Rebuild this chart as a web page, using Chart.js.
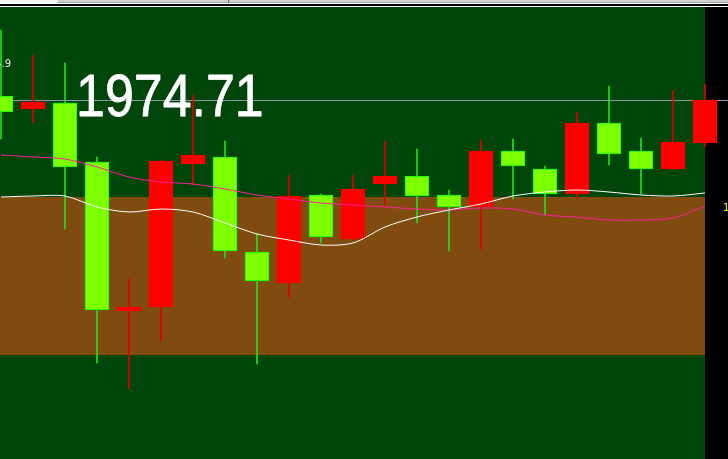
<!DOCTYPE html>
<html>
<head>
<meta charset="utf-8">
<script src="https://cdn.jsdelivr.net/npm/chart.js@4.4.0/dist/chart.umd.min.js"></script>
<style>
  html, body { margin: 0; padding: 0; background: #000; }
  canvas { display: block; }
</style>
</head>
<body>
<canvas id="myChart" width="728" height="459"></canvas>
<script>
// bougies (prix)
const opens  = [1974.75, 1974.62, 1974.68, 1974.09, 1972.60, 1972.64, 1974.07, 1974.14, 1973.19, 1972.88, 1973.76, 1973.32,
                1973.87, 1973.95, 1973.76, 1973.64, 1974.20, 1974.02, 1973.77, 1974.48, 1974.20, 1974.02, 1974.28];
const highs  = [1975.41, 1975.16, 1975.08, 1974.14, 1972.92, 1974.11, 1974.76, 1974.30, 1973.37, 1973.96, 1973.77, 1973.96,
                1974.30, 1974.22, 1973.81, 1974.31, 1974.32, 1974.05, 1974.59, 1974.85, 1974.33, 1974.81, 1974.87];
const lows   = [1974.32, 1974.48, 1973.42, 1972.08, 1971.82, 1972.30, 1973.86, 1973.13, 1972.07, 1972.74, 1973.28, 1973.31,
                1973.66, 1973.48, 1973.20, 1973.22, 1973.72, 1973.56, 1973.72, 1974.06, 1973.77, 1974.02, 1974.24];
const closes = [1974.59, 1974.69, 1974.04, 1972.61, 1972.64, 1974.10, 1974.16, 1973.20, 1972.90, 1973.75, 1973.34, 1973.82,
                1973.95, 1973.75, 1973.64, 1974.20, 1974.05, 1973.77, 1974.48, 1974.17, 1974.02, 1974.29, 1974.71];

// moyennes mobiles
const maWhite   = [1973.74, 1973.75, 1973.75, 1973.64, 1973.59, 1973.62, 1973.59, 1973.48, 1973.37, 1973.31, 1973.26, 1973.28,
                   1973.44, 1973.54, 1973.61, 1973.67, 1973.75, 1973.79, 1973.81, 1973.79, 1973.76, 1973.75, 1973.78];
const maMagenta = [1974.16, 1974.14, 1974.12, 1974.04, 1973.94, 1973.89, 1973.87, 1973.82, 1973.76, 1973.72, 1973.68, 1973.66,
                   1973.64, 1973.62, 1973.61, 1973.63, 1973.62, 1973.56, 1973.54, 1973.51, 1973.51, 1973.53, 1973.65];

// zone (rectangle marron)
const zoneHigh = 1973.74;
const zoneLow = 1972.16;

// echelle de prix visible
const priceMax = 1975.71;
const priceMin = 1971.12;

const upColor = "#ff0000";
const downColor = "#7cff00";

const bodies = opens.map((o, i) => ({ x: i, y: [o, closes[i]] }));
const wicks = lows.map((l, i) => ({ x: i, y: [l, highs[i]] }));
const isUp = closes.map((c, i) => c >= opens[i]);

const chartPlugin = {
  id: "mt4",
  beforeDatasetsDraw(chart) {
    const ctx = chart.ctx;
    const y = chart.scales.y;
    const x = chart.scales.x;
    const rightEdge = x.getPixelForValue(closes.length - 1);
    ctx.save();
    ctx.fillStyle = "#00450a";
    ctx.fillRect(0, 0, rightEdge, chart.height);
    ctx.fillStyle = "#000000";
    ctx.fillRect(rightEdge, 0, chart.width - rightEdge, chart.height);
    // zone
    const zt = y.getPixelForValue(zoneHigh);
    const zb = y.getPixelForValue(zoneLow);
    ctx.fillStyle = "#804b0e";
    ctx.fillRect(0, zt, rightEdge, zb - zt);
    // ligne bid
    const by = Math.round(y.getPixelForValue(closes[closes.length - 1])) + 0.5;
    ctx.strokeStyle = "#8a96a8";
    ctx.lineWidth = 1;
    ctx.beginPath();
    ctx.moveTo(0, by);
    ctx.lineTo(chart.width, by);
    ctx.stroke();
    ctx.restore();
  },
  afterDraw(chart) {
    const ctx = chart.ctx;
    ctx.save();
    // grand prix (police etroite simulee)
    ctx.save();
    ctx.scale(0.88, 1);
    ctx.fillStyle = "#ffffff";
    ctx.strokeStyle = "#ffffff";
    ctx.lineWidth = 0.8;
    ctx.lineJoin = "round";
    ctx.font = '59px "Liberation Sans", sans-serif';
    ctx.textBaseline = "alphabetic";
    ctx.textAlign = "left";
    const label = closes[closes.length - 1].toFixed(2);
    ctx.fillText(label, 76 / 0.88, 116);
    ctx.strokeText(label, 76 / 0.88, 116);
    ctx.restore();
    // petits labels coupes
    ctx.font = '10px "DejaVu Sans", sans-serif';
    ctx.fillStyle = "#e8e8e8";
    ctx.textAlign = "right";
    ctx.fillText("1974.9", 11, 67);
    ctx.fillStyle = "#ffff00";
    ctx.textAlign = "left";
    ctx.fillText(zoneHigh.toFixed(2), 723, 211);
    // barre du haut
    ctx.fillStyle = "#d0d0d0";
    ctx.fillRect(0, 0, chart.width, 2);
    ctx.fillStyle = "#f4f4f4";
    ctx.fillRect(0, 0, 58, 3);
    ctx.fillStyle = "#a0a0a0";
    ctx.fillRect(58, 2, chart.width - 58, 1);
    ctx.fillStyle = "#606060";
    ctx.fillRect(228, 0, 1, 3);
    ctx.fillStyle = "#ffffff";
    ctx.fillRect(0, 3, chart.width, 1);
    ctx.fillStyle = "#000000";
    ctx.fillRect(0, 4, chart.width, 2);
    ctx.fillStyle = "#ffffff";
    ctx.fillRect(0, 6, chart.width, 1);
    ctx.restore();
  }
};

const ctx = document.getElementById("myChart").getContext("2d");
new Chart(ctx, {
  type: "bar",
  data: {
    datasets: [
      {
        type: "line",
        data: maWhite.map((v, i) => ({ x: i, y: v })),
        borderColor: "#ffffff",
        borderWidth: 1,
        pointRadius: 0,
        tension: 0.3,
        order: 0
      },
      {
        type: "line",
        data: maMagenta.map((v, i) => ({ x: i, y: v })),
        borderColor: "#ff1f9a",
        borderWidth: 1,
        pointRadius: 0,
        tension: 0.3,
        order: 1
      },
      {
        data: bodies,
        backgroundColor: isUp.map(u => u ? upColor : downColor),
        borderColor: isUp.map(u => u ? upColor : "#00ff00"),
        borderWidth: 1,
        borderSkipped: false,
        barThickness: 24,
        grouped: false,
        order: 2
      },
      {
        data: wicks,
        backgroundColor: isUp.map(u => u ? "#e00000" : "#20e020"),
        borderWidth: 0,
        barThickness: 1,
        grouped: false,
        order: 3
      }
    ]
  },
  options: {
    responsive: false,
    animation: false,
    devicePixelRatio: 1,
    layout: { padding: 0 },
    plugins: { legend: { display: false }, tooltip: { enabled: false } },
    scales: {
      x: { type: "linear", display: false, min: -1 / 32, max: -1 / 32 + 728 / 32, offset: false },
      y: { display: false, min: priceMin, max: priceMax }
    }
  },
  plugins: [chartPlugin]
});
</script>
</body>
</html>
